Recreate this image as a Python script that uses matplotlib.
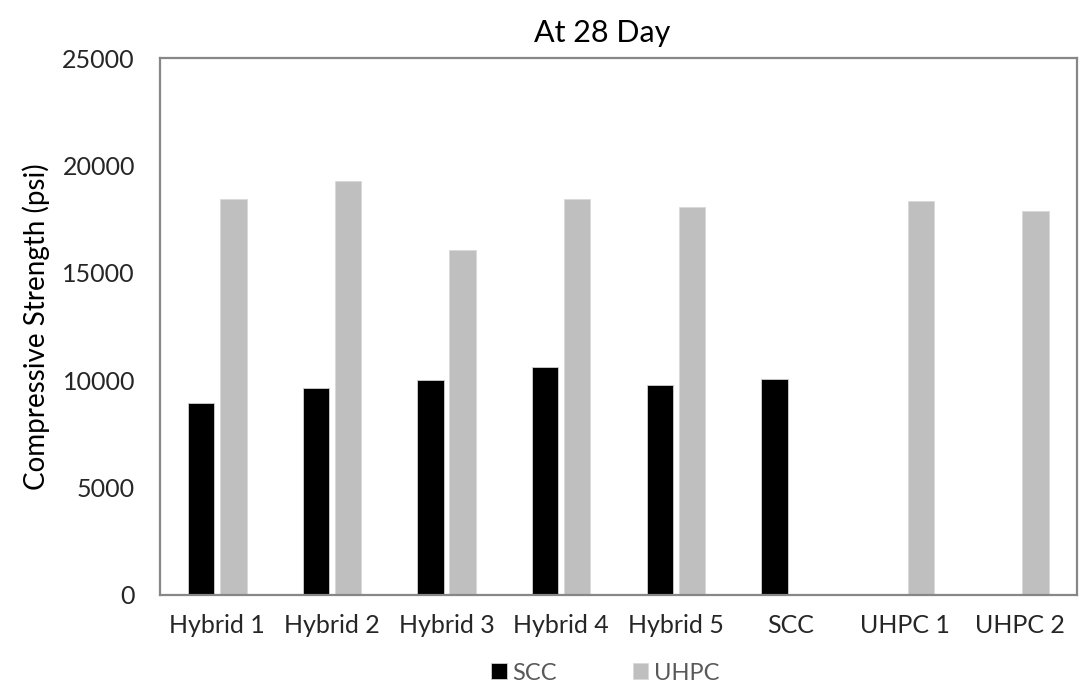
import numpy as np
import matplotlib.pyplot as plt

plt.rcParams['font.family'] = ['Lato', 'DejaVu Sans']

# data (psi)
mixes = ['Hybrid 1', 'Hybrid 2', 'Hybrid 3', 'Hybrid 4', 'Hybrid 5', 'SCC', 'UHPC 1', 'UHPC 2']
scc = [8950, 9650, 10000, 10600, 9770, 10050, 0, 0]
uhpc = [18450, 19270, 16050, 18450, 18080, 0, 18350, 17880]
yticks = [0, 5000, 10000, 15000, 20000, 25000]

x = np.arange(len(mixes))
w = 0.23 #bar width
off = 0.14 #half spacing of the pair

fig = plt.figure(figsize=(10.89, 6.85), dpi=100)
ax = fig.add_axes([0.1469, 0.1314, 0.842, 0.7839])

ax.bar(x - off, scc, w, color='black', edgecolor='#d0d0d0', linewidth=0.6, label='SCC')
ax.bar(x + off, uhpc, w, color='#bfbfbf', edgecolor='#d9d9d9', linewidth=0.6, label='UHPC')

ax.set_xlim(-0.5, len(mixes) - 0.5)
ax.set_ylim(0, 25000)
ax.set_yticks(yticks)
ax.set_xticks(x)
ax.set_xticklabels(mixes)
ax.tick_params(length=0, labelsize=18, colors='#262626')
ax.tick_params(axis='y', pad=18)
ax.tick_params(axis='x', pad=14)
for s in ax.spines.values():
    s.set_color('#878787')
    s.set_linewidth(1.6)

ax.set_ylabel('Compressive Strength (psi)', fontsize=20, color='black', labelpad=9)
fig.text(602/1089, 0.952, 'At 28 Day', fontsize=22, ha='center', va='center')

fig.legend(loc='center', bbox_to_anchor=(0.556, 1 - 673/685), ncol=2, frameon=False,
           fontsize=17, handlelength=0.65, handleheight=0.65, handletextpad=0.25,
           columnspacing=3.2, labelcolor='#595959')

fig.savefig('out.png', dpi=100)
